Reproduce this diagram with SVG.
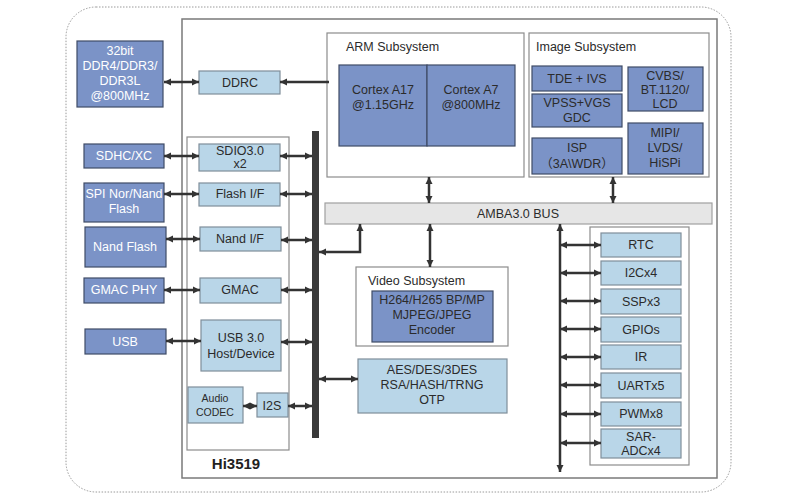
<svg xmlns="http://www.w3.org/2000/svg" width="800" height="500" viewBox="0 0 800 500">
<style>
text{font-family:"Liberation Sans",Arial,sans-serif;font-size:12.5px;text-anchor:middle;fill:#2b2b2b}
.ext{fill:#7b93c7;stroke:#3f4b66;stroke-width:1.2}
.ext-t{fill:#ffffff}
.dk{fill:#7b93c7;stroke:#3f4b66;stroke-width:1.2}
.lb{fill:#b9d6e8;stroke:#7f8e9a;stroke-width:1.2}
.cont{fill:#ffffff;stroke:#8c8c8c;stroke-width:1.2}
.lbl{text-anchor:start;font-size:12.5px}
.con{stroke:#333333;stroke-width:2.5;fill:none}
</style>
<defs>
<marker id="ah" markerUnits="userSpaceOnUse" markerWidth="8" markerHeight="8" refX="7" refY="4" orient="auto-start-reverse">
<path d="M0,0.5 L7,4 L0,7.5 z" fill="#333333"/>
</marker>
</defs>
<rect x="0" y="0" width="800" height="500" fill="#ffffff"/>
<rect id="frame" x="66" y="7" width="665" height="485" rx="30" fill="none" stroke="#9a9a9a" stroke-width="1" stroke-dasharray="1.5 1.5"/>
<g id="chip"><rect x="182" y="19" width="535" height="459" fill="#ffffff" stroke="#7a7a7a" stroke-width="1.5"/>
<text x="236" y="469" style="font-size:15px;font-weight:bold;fill:#222">Hi3519</text></g>
<g id="periph-left"><rect class="cont" x="187" y="137" width="102" height="313"/></g>
<g id="arm"><rect class="cont" x="327" y="33" width="197" height="144"/>
<text class="lbl" x="346" y="51">ARM Subsystem</text></g>
<g id="cortex-a17"><rect class="dk" x="339" y="65" width="88" height="81"/>
<text x="383" y="94">Cortex A17</text><text x="383" y="109">@1.15GHz</text></g>
<g id="cortex-a7"><rect class="dk" x="427" y="65" width="88" height="81"/>
<text x="471" y="94">Cortex A7</text><text x="471" y="109">@800MHz</text></g>
<g id="image"><rect class="cont" x="529" y="33" width="180" height="144"/>
<text class="lbl" x="536" y="51">Image Subsystem</text></g>
<g id="tde"><rect class="dk" x="532" y="66" width="90" height="25"/><text x="577" y="83">TDE + IVS</text></g>
<g id="vpss"><rect class="dk" x="532" y="94" width="90" height="33"/><text x="577" y="107">VPSS+VGS</text><text x="577" y="122">GDC</text></g>
<g id="isp"><rect class="dk" x="532" y="138" width="90" height="36"/><text x="577" y="152">ISP</text><text x="577" y="168" style="font-family:'Liberation Sans','Noto Sans CJK SC',sans-serif">（3A\WDR）</text></g>
<g id="cvbs"><rect class="dk" x="628" y="67" width="75" height="44"/><text x="665" y="80">CVBS/</text><text x="665" y="94">BT.1120/</text><text x="665" y="108">LCD</text></g>
<g id="mipi"><rect class="dk" x="628" y="123" width="75" height="51"/><text x="665" y="137">MIPI/</text><text x="665" y="152">LVDS/</text><text x="665" y="167">HiSPi</text></g>
<g id="amba"><rect x="325" y="203" width="387" height="21" fill="#e6e6e6" stroke="#a0a0a0" stroke-width="1.2"/><text x="518" y="218">AMBA3.0 BUS</text></g>
<g id="video"><rect class="cont" x="356" y="267" width="152" height="79"/><text class="lbl" x="368" y="285">Video Subsystem</text></g>
<g id="encoder"><rect class="dk" x="372" y="291" width="121" height="51"/><text x="432" y="304">H264/H265 BP/MP</text><text x="432" y="319">MJPEG/JPEG</text><text x="432" y="334">Encoder</text></g>
<g id="aes"><rect class="lb" x="358" y="359" width="149" height="54"/><text x="432" y="374">AES/DES/3DES</text><text x="432" y="389">RSA/HASH/TRNG</text><text x="432" y="404">OTP</text></g>
<g id="bar"><rect x="312" y="131" width="7" height="307" fill="#3a3a3a"/></g>
<g id="ddr"><rect class="ext" x="77" y="41" width="86" height="66"/>
<text class="ext-t" x="120" y="55">32bit</text><text class="ext-t" x="120" y="70">DDR4/DDR3/</text><text class="ext-t" x="120" y="85">DDR3L</text><text class="ext-t" x="120" y="100">@800MHz</text></g>
<g id="sdhc"><rect class="ext" x="84" y="144" width="80" height="24"/><text class="ext-t" x="124" y="160">SDHC/XC</text></g>
<g id="spi"><rect class="ext" x="84" y="183" width="80" height="39"/><text class="ext-t" x="124" y="198">SPI Nor/Nand</text><text class="ext-t" x="124" y="213">Flash</text></g>
<g id="nandflash"><rect class="ext" x="85" y="227" width="81" height="40"/><text class="ext-t" x="125" y="251">Nand Flash</text></g>
<g id="gmacphy"><rect class="ext" x="84" y="278" width="80" height="25"/><text class="ext-t" x="124" y="294">GMAC PHY</text></g>
<g id="usb"><rect class="ext" x="85" y="329" width="81" height="25"/><text class="ext-t" x="125" y="346">USB</text></g>
<g id="ddrc"><rect class="lb" x="199" y="71" width="81" height="23"/><text x="240" y="87">DDRC</text></g>
<g id="sdio"><rect class="lb" x="199" y="144" width="81" height="27"/><text x="240" y="155">SDIO3.0</text><text x="240" y="168">x2</text></g>
<g id="flashif"><rect class="lb" x="199" y="183" width="81" height="23"/><text x="240" y="198">Flash I/F</text></g>
<g id="nandif"><rect class="lb" x="200" y="227" width="81" height="24"/><text x="240" y="243">Nand I/F</text></g>
<g id="gmac"><rect class="lb" x="200" y="278" width="81" height="25"/><text x="240" y="294">GMAC</text></g>
<g id="usb3"><rect class="lb" x="201" y="320" width="80" height="51"/><text x="241" y="342">USB 3.0</text><text x="241" y="358">Host/Device</text></g>
<g id="audio"><rect class="lb" x="188" y="387" width="55" height="36"/><text x="215" y="402" style="font-size:10.5px">Audio</text><text x="215" y="416" style="font-size:10.5px">CODEC</text></g>
<g id="i2s"><rect class="lb" x="257" y="393" width="31" height="24"/><text x="272" y="410">I2S</text></g>
<g id="rp"><rect class="cont" x="590" y="227" width="99" height="238"/></g>
<g id="rtc"><rect class="lb" x="601" y="233" width="80" height="24"/><text x="641" y="249">RTC</text></g>
<g id="i2c"><rect class="lb" x="601" y="261" width="80" height="24"/><text x="641" y="277">I2Cx4</text></g>
<g id="ssp"><rect class="lb" x="601" y="289" width="80" height="25"/><text x="641" y="306">SSPx3</text></g>
<g id="gpio"><rect class="lb" x="601" y="317" width="80" height="25"/><text x="641" y="334">GPIOs</text></g>
<g id="ir"><rect class="lb" x="601" y="345" width="80" height="24"/><text x="641" y="361">IR</text></g>
<g id="uart"><rect class="lb" x="601" y="373" width="80" height="25"/><text x="641" y="390">UARTx5</text></g>
<g id="pwm"><rect class="lb" x="601" y="402" width="80" height="24"/><text x="641" y="418">PWMx8</text></g>
<g id="sar"><rect class="lb" x="601" y="429" width="80" height="29"/><text x="641" y="441">SAR-</text><text x="641" y="455">ADCx4</text></g>
<g id="connectors" class="con" marker-end="url(#ah)">
<line x1="164" y1="82" x2="199" y2="82" marker-start="url(#ah)"/>
<line x1="329" y1="82" x2="280" y2="82"/>
<line x1="164" y1="156" x2="199" y2="156" marker-start="url(#ah)"/>
<line x1="164" y1="194" x2="199" y2="194" marker-start="url(#ah)"/>
<line x1="166" y1="239" x2="200" y2="239" marker-start="url(#ah)"/>
<line x1="164" y1="290" x2="200" y2="290" marker-start="url(#ah)"/>
<line x1="166" y1="341" x2="201" y2="341" marker-start="url(#ah)"/>
<line x1="280" y1="156" x2="312" y2="156" marker-start="url(#ah)"/>
<line x1="280" y1="194" x2="312" y2="194" marker-start="url(#ah)"/>
<line x1="281" y1="240" x2="312" y2="240" marker-start="url(#ah)"/>
<line x1="281" y1="290" x2="312" y2="290" marker-start="url(#ah)"/>
<line x1="281" y1="342" x2="312" y2="342" marker-start="url(#ah)"/>
<line x1="243" y1="406" x2="257" y2="406" marker-start="url(#ah)"/>
<line x1="288" y1="406" x2="312" y2="406" marker-start="url(#ah)"/>
<line x1="319" y1="379" x2="358" y2="379" marker-start="url(#ah)"/>
<polyline points="319,252 360,252 360,224" marker-start="url(#ah)"/>
<line x1="429" y1="177" x2="429" y2="203" marker-start="url(#ah)"/>
<line x1="613" y1="177" x2="613" y2="203" marker-start="url(#ah)"/>
<line x1="430" y1="224" x2="430" y2="267" marker-start="url(#ah)"/>
<line x1="560" y1="472" x2="560" y2="224" marker-start="url(#ah)"/>
<line x1="560" y1="245" x2="601" y2="245" marker-start="url(#ah)"/>
<line x1="560" y1="273" x2="601" y2="273" marker-start="url(#ah)"/>
<line x1="560" y1="301" x2="601" y2="301" marker-start="url(#ah)"/>
<line x1="560" y1="329" x2="601" y2="329" marker-start="url(#ah)"/>
<line x1="560" y1="357" x2="601" y2="357" marker-start="url(#ah)"/>
<line x1="560" y1="385" x2="601" y2="385" marker-start="url(#ah)"/>
<line x1="560" y1="414" x2="601" y2="414" marker-start="url(#ah)"/>
<line x1="560" y1="443" x2="601" y2="443" marker-start="url(#ah)"/>
</g>
</svg>
